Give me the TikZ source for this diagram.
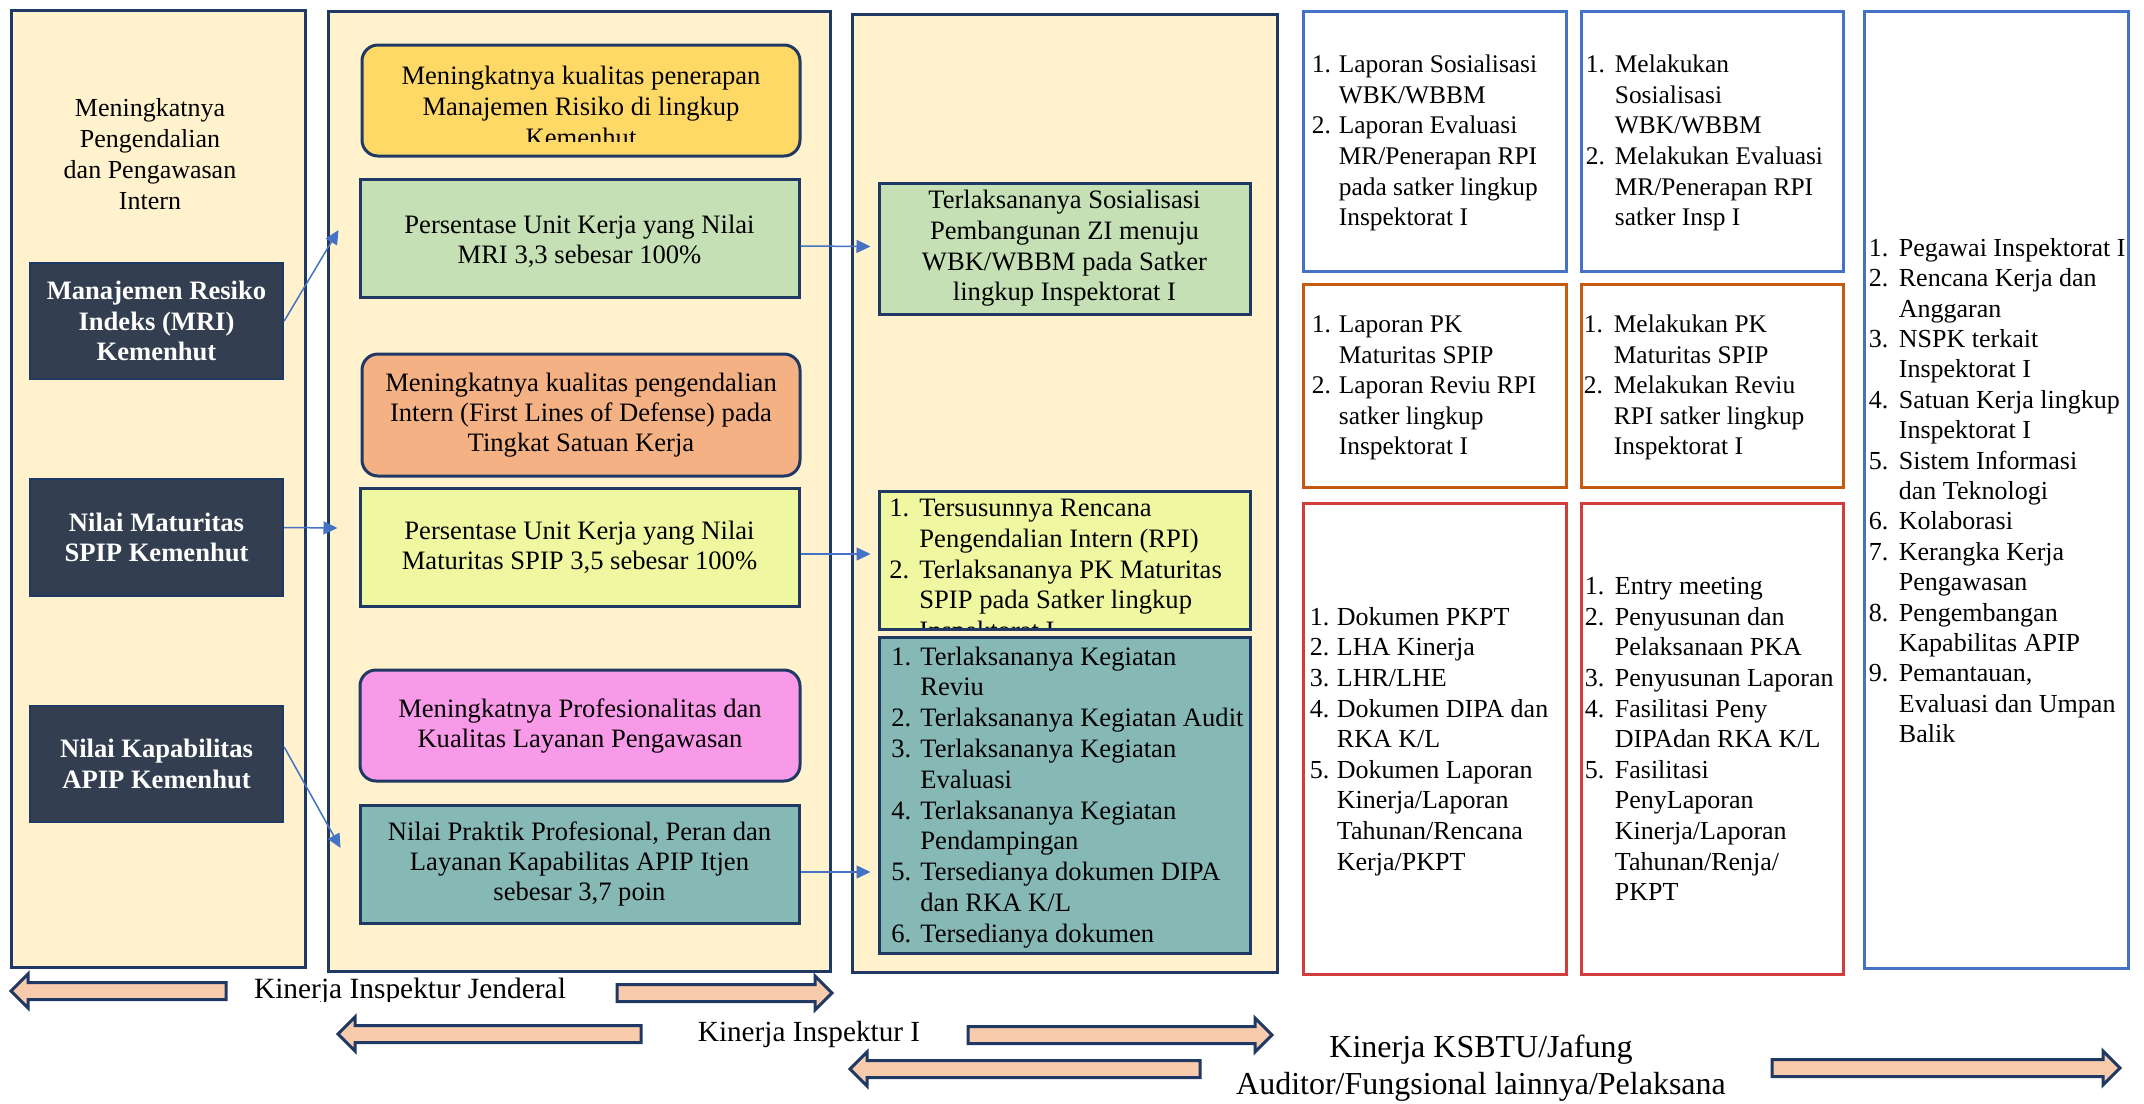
\documentclass[tikz,border=0pt]{standalone}
\usepackage{fontspec}
\setmainfont{Liberation Serif}
\usetikzlibrary{fit,calc,arrows.meta}
\definecolor{navy}{HTML}{1F3864}
\definecolor{cream}{HTML}{FFF2CC}
\definecolor{darkbox}{HTML}{333F50}
\definecolor{cyel}{HTML}{FFD966}
\definecolor{cgreen}{HTML}{C5E0B4}
\definecolor{corange}{HTML}{F4B183}
\definecolor{clime}{HTML}{EFF8A1}
\definecolor{cpink}{HTML}{F99AE8}
\definecolor{cteal}{HTML}{86B8B6}
\definecolor{bblue}{HTML}{4472C4}
\definecolor{borange}{HTML}{C55A11}
\definecolor{bred}{HTML}{D13C3C}
\definecolor{peach}{HTML}{F8CBAD}
\newcommand{\fs}[2]{\fontsize{#1pt}{#2pt}\selectfont}
\newcommand{\blkL}[3]{\draw[barrow] (#1,#3) -- ++(17,-17) -- ++(0,8.5) -- ++(#2,0) -- ++(0,17) -- ++(-#2,0) -- ++(0,8.5) -- cycle;}
\newcommand{\blkR}[3]{\draw[barrow] (#1,#3) -- ++(-17,-17) -- ++(0,8.5) -- ++(-#2,0) -- ++(0,17) -- ++(#2,0) -- ++(0,8.5) -- cycle;}
\tikzset{
  panel/.style={draw=navy, line width=1.5pt, fill=cream, inner sep=0pt},
  dbox/.style={draw=navy, line width=1.2pt, fill=darkbox, inner sep=0pt},
  dtext/.style={inner sep=0pt, text=white, align=center, font=\bfseries\fs{13.3}{15.4}},
  mbox/.style={draw=navy, line width=1.5pt, inner sep=0pt},
  rbox/.style={mbox, rounded corners=8pt},
  mtext/.style={inner sep=0pt, align=center, font=\fs{13.3}{15}},
  wbox/.style={draw=#1, line width=1.5pt, fill=white, inner sep=0pt},
  lst/.style={inner sep=0pt, anchor=west},
  conn/.style={draw=bblue, line width=0.75pt, -{Triangle[length=7pt,width=6.5pt]}},
  barrow/.style={draw=navy, fill=peach, line width=1.5pt, line join=miter},
}
\begin{document}
\begin{tikzpicture}[x=0.5pt,y=-0.5pt]
\useasboundingbox (0,0) rectangle (2144,1104);
% panels
\node[panel, fit={(11,10)(305,967)}] (P1) {};
\node[panel, fit={(328,11)(830,971)}] (P2) {};
\node[panel, fit={(852,14)(1277,972)}] (P3) {};
% left column
\node[align=center, font=\fs{13}{15.4}] (lt) at (150,154) {Meningkatnya\\Pengendalian\\dan Pengawasan\\Intern};
\node[dbox, fit={(30,263)(283,379)}] (D1) {};
\node[dtext] (D1t) at (D1) {Manajemen Resiko\\Indeks (MRI)\\Kemenhut};
\node[dbox, fit={(30,479)(283,596)}] (D2) {};
\node[dtext] (D2t) at (D2) {Nilai Maturitas\\SPIP Kemenhut};
\node[dbox, fit={(30,706)(283,822)}] (D3) {};
\node[dtext] (D3t) at (D3) {Nilai Kapabilitas\\APIP Kemenhut};
% middle column
\node[rbox, fill=cyel, fit={(362,45)(800,156)}] (Y1) {};
\begin{scope}
\clip (362,45) rectangle (800,141);
\node[mtext, font=\fs{13.3}{15.5}] (Y1t) at (581,106) {Meningkatnya kualitas penerapan\\Manajemen Risiko di lingkup\\Kemenhut};
\end{scope}
\node[mbox, fill=cgreen, fit={(360,179)(799,297)}] (G1) {};
\node[mtext] (G1t) at ($(G1)+(0,3)$) {Persentase Unit Kerja yang Nilai\\MRI 3,3 sebesar 100\%};
\node[rbox, fill=corange, fit={(362,354)(800,476)}] (O1) {};
\node[mtext] (O1t) at (O1) {Meningkatnya kualitas pengendalian\\Intern (First Lines of Defense) pada\\Tingkat Satuan Kerja};
\node[mbox, fill=clime, fit={(360,488)(799,606)}] (YG) {};
\node[mtext] (YGt) at (YG) {Persentase Unit Kerja yang Nilai\\Maturitas SPIP 3,5 sebesar 100\%};
\node[rbox, fill=cpink, fit={(360,670)(800,781)}] (PK) {};
\node[mtext] (PKt) at (PK) {Meningkatnya Profesionalitas dan\\Kualitas Layanan Pengawasan};
\node[mbox, fill=cteal, fit={(360,805)(799,923)}] (T1) {};
\node[mtext] (T1t) at (T1) {Nilai Praktik Profesional, Peran dan\\Layanan Kapabilitas APIP Itjen\\sebesar 3,7 poin};
% third column
\node[mbox, fill=cgreen, fit={(879,183)(1250,314)}] (G2) {};
\node[mtext, font=\fs{13.3}{15.3}] (G2t) at (G2) {Terlaksananya Sosialisasi\\Pembangunan ZI menuju\\WBK/WBBM pada Satker\\lingkup Inspektorat I};
\node[mbox, fill=clime, fit={(879,491)(1250,629)}] (YL) {};
\begin{scope}
\clip (879,491) rectangle (1250,627);
\node[lst, font=\fs{13.3}{15.4}] (YLt) at (889,572) {\begin{tabular}{@{}p{15pt}@{}l@{}}
1. & Tersusunnya Rencana\\
 & Pengendalian Intern (RPI)\\
2. & Terlaksananya PK Maturitas\\
 & SPIP pada Satker lingkup\\
 & Inspektorat I
\end{tabular}};
\end{scope}
\node[mbox, fill=cteal, fit={(879,637)(1250,953)}] (TL) {};
\begin{scope}
\clip (879,637) rectangle (1250,951);
\node[lst, font=\fs{13.3}{15.4}] (TLt) at (891,813) {\begin{tabular}{@{}p{14.5pt}@{}l@{}}
1. & Terlaksananya Kegiatan\\
 & Reviu\\
2. & Terlaksananya Kegiatan Audit\\
3. & Terlaksananya Kegiatan\\
 & Evaluasi\\
4. & Terlaksananya Kegiatan\\
 & Pendampingan\\
5. & Tersedianya dokumen DIPA\\
 & dan RKA K/L\\
6. & Tersedianya dokumen\\
 & Laporan Kinerja/Laporan
\end{tabular}};
\end{scope}
% right boxes
\node[wbox=bblue, fit={(1303,11)(1566,271)}] (B1) {};
\node[lst, font=\fs{12.7}{15.3}] (B1t) at ($(B1.west)+(10,2)$) {\begin{tabular}{@{}p{13.5pt}@{}l@{}}
1. & Laporan Sosialisasi\\
 & WBK/WBBM\\
2. & Laporan Evaluasi\\
 & MR/Penerapan RPI\\
 & pada satker lingkup\\
 & Inspektorat I
\end{tabular}};
\node[wbox=bblue, fit={(1581,11)(1843,271)}] (B2) {};
\node[lst, font=\fs{12.7}{15.3}] (B2t) at ($(B2.west)+(6,2)$) {\begin{tabular}{@{}p{14.5pt}@{}l@{}}
1. & Melakukan\\
 & Sosialisasi\\
 & WBK/WBBM\\
2. & Melakukan Evaluasi\\
 & MR/Penerapan RPI\\
 & satker Insp I
\end{tabular}};
\node[wbox=borange, fit={(1303,284)(1566,487)}] (C1) {};
\node[lst, font=\fs{12.7}{15.3}] (C1t) at ($(C1.west)+(10,2)$) {\begin{tabular}{@{}p{13.5pt}@{}l@{}}
1. & Laporan PK\\
 & Maturitas SPIP\\
2. & Laporan Reviu RPI\\
 & satker lingkup\\
 & Inspektorat I
\end{tabular}};
\node[wbox=borange, fit={(1581,284)(1843,487)}] (C2) {};
\node[lst, font=\fs{12.7}{15.3}] (C2t) at ($(C2.west)+(4,2)$) {\begin{tabular}{@{}p{15pt}@{}l@{}}
1. & Melakukan PK\\
 & Maturitas SPIP\\
2. & Melakukan Reviu\\
 & RPI satker lingkup\\
 & Inspektorat I
\end{tabular}};
\node[wbox=bred, fit={(1303,503)(1566,974)}] (R1) {};
\node[lst, font=\fs{13}{15.3}] (R1t) at ($(R1.west)+(8,3)$) {\begin{tabular}{@{}p{13.5pt}@{}l@{}}
1. & Dokumen PKPT\\
2. & LHA Kinerja\\
3. & LHR/LHE\\
4. & Dokumen DIPA dan\\
 & RKA K/L\\
5. & Dokumen Laporan\\
 & Kinerja/Laporan\\
 & Tahunan/Rencana\\
 & Kerja/PKPT
\end{tabular}};
\node[wbox=bred, fit={(1581,503)(1843,974)}] (R2) {};
\node[lst, font=\fs{13}{15.3}] (R2t) at ($(R2.west)+(5,3)$) {\begin{tabular}{@{}p{15pt}@{}l@{}}
1. & Entry meeting\\
2. & Penyusunan dan\\
 & Pelaksanaan PKA\\
3. & Penyusunan Laporan\\
4. & Fasilitasi Peny\\
 & DIPAdan RKA K/L\\
5. & Fasilitasi\\
 & PenyLaporan\\
 & Kinerja/Laporan\\
 & Tahunan/Renja/\\
 & PKPT
\end{tabular}};
\node[wbox=bblue, fit={(1864,11)(2128,968)}] (T) {};
\node[lst, font=\fs{13}{15.2}] (Tt) at ($(T.west)+(6,4)$) {\begin{tabular}{@{}p{15pt}@{}l@{}}
1. & Pegawai Inspektorat I\\
2. & Rencana Kerja dan\\
 & Anggaran\\
3. & NSPK terkait\\
 & Inspektorat I\\
4. & Satuan Kerja lingkup\\
 & Inspektorat I\\
5. & Sistem Informasi\\
 & dan Teknologi\\
6. & Kolaborasi\\
7. & Kerangka Kerja\\
 & Pengawasan\\
8. & Pengembangan\\
 & Kapabilitas APIP\\
9. & Pemantauan,\\
 & Evaluasi dan Umpan\\
 & Balik
\end{tabular}};
% connectors
\draw[conn] (D1.east) -- ($(G1.west)+(-20,-8)$);
\draw[conn] ($(D2.east)+(0,-10)$) -- ($(YG.west)+(-21,-19)$);
\draw[conn] ($(D3.east)+(0,-17)$) -- ($(T1.west)+(-18,-16)$);
\draw[conn] ($(G1.east)+(0,8)$) -- ($(G2.west)+(-7,-2)$);
\draw[conn] ($(YG.east)+(0,7)$) -- ($(YL.west)+(-7,-6)$);
\draw[conn] ($(T1.east)+(0,8)$) -- ($(TL.west)+(-7,77)$);
% block arrows
\blkL{11}{198}{991}
\blkR{832}{198}{993}
\blkL{338}{286}{1034}
\blkR{1272}{287}{1035}
\blkL{850}{333}{1069}
\blkR{2120}{331}{1068}
% bottom labels
\begin{scope}
\clip (200,960) rectangle (620,1001);
\node[anchor=base, font=\fs{14.7}{17}] (kij) at (410,998) {Kinerja Inspektur Jenderal};
\end{scope}
\node[anchor=base, font=\fs{14.6}{17}] (kii) at (809,1041) {Kinerja Inspektur I};
\node[align=center, font=\fs{16}{18.5}] (ksb) at (1481,1068) {Kinerja KSBTU/Jafung\\Auditor/Fungsional lainnya/Pelaksana};
\end{tikzpicture}
\end{document}
